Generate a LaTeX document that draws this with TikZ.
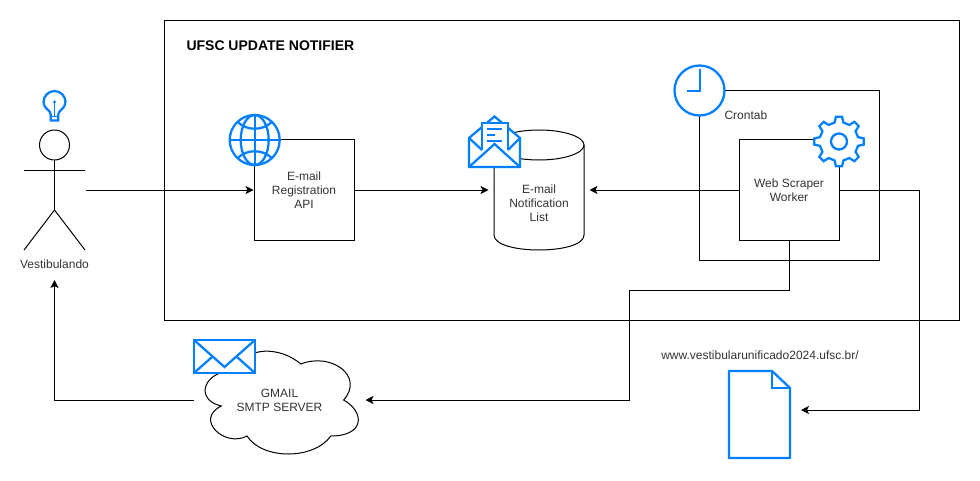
\documentclass[tikz,border=0pt]{standalone}
\usepackage{fontspec}
\setmainfont{Liberation Sans}
\usepackage{tikz}
\usetikzlibrary{
  arrows.meta
}
\definecolor{iconblue}{HTML}{007FFF}
\definecolor{labelgray}{HTML}{333333}

\begin{document}
\begin{tikzpicture}[
    x=0.75pt, y=-0.75pt, line width=0.75pt,
    every node/.style={inner sep=0pt, text=labelgray, align=center, font=\fontsize{9}{10.5}\selectfont},
    boxnode/.style={draw, minimum width=75pt, minimum height=75pt},
    flow/.style={-{Stealth[length=6pt, width=6pt, inset=1.5pt]}},
    icon/.style={draw=iconblue, fill=white, line width=1.7pt, line join=miter},
    iconline/.style={draw=iconblue, line width=1.7pt}
]
    \useasboundingbox (0,0) rectangle (980,481);

    % System boundary and title
    \draw (164,21) rectangle (959,320);
    \node[anchor=west, font=\fontsize{10.5}{12}\selectfont\bfseries, text=black] (title) at (186,46) {UFSC UPDATE NOTIFIER};

    % Vestibulando
    \node[minimum width=45.75pt, minimum height=90pt] (actor) at (54.5,190) {};
    \draw (54.5,145) circle (15);
    \draw (54.5,160) -- (54.5,210);
    \draw (24,170) -- (85,170);
    \draw (24,250) -- (54.5,210) -- (85,250);
    \node (actorlabel) at (54.5,264) {Vestibulando};
    \coordinate (actorin) at (54.5,280);

    % Services
    \node[boxnode] (api) at (304,190) {E-mail\\Registration\\API};
    \node[minimum width=67.5pt, minimum height=90pt] (list) at (539,190) {};
    \draw (539,145) ellipse (45 and 15);
    \draw (494,145) -- (494,235) .. controls (494,255) and (584,255) .. (584,235) -- (584,145);
    \node (listlabel) at (539,203) {E-mail\\Notification\\List};
    \draw (699,91) rectangle (879,260);
    \node[anchor=west] (crontab) at (724,115) {Crontab};
    \node[boxnode] (worker) at (789,190) {Web Scraper\\Worker};

    % Gmail cloud
    \node[minimum width=128.25pt, minimum height=90pt] (cloud) at (279.5,400) {GMAIL\\SMTP SERVER};
    \draw (236.75,370) .. controls (202.55,370) and (194,400) .. (221.36,406)
        .. controls (194,419.2) and (224.78,448) .. (247.01,436)
        .. controls (262.4,460) and (313.7,460) .. (330.8,436)
        .. controls (365,436) and (365,412) .. (343.63,400)
        .. controls (365,376) and (330.8,352) .. (300.88,364)
        .. controls (279.5,346) and (245.3,346) .. (236.75,370) -- cycle;

    % Target page
    \node (url) at (760,355) {www.vestibularunificado2024.ufsc.br/};
    \node[minimum width=45.75pt, minimum height=65.25pt] (page) at (759.5,414.5) {};
    \coordinate (pagein) at (801,410);
    \coordinate (bendpage) at (919,410);
    \coordinate (bendmail) at (629,290);

    % Connectors
    \draw[flow] (actor.east) -- (api.west);
    \draw[flow, shorten >=3.75pt] (api.east) -- (list.west);
    \draw[flow, shorten >=3.75pt] (worker.west) -- (list.east);
    \draw[flow] (worker.south) |- (bendmail) |- (cloud.east);
    \draw[flow] (worker.east) -| (bendpage) -- (pagein);
    \draw[flow] (cloud.west) -| (actorin);

    % Light bulb
    \begin{scope}[shift={(54.5,0)}]
        \draw[icon] (-3.8,120.5) -- (-3.8,114.5) .. controls (-3.8,110) and (-11,109) .. (-11,102)
            .. controls (-11,96) and (-6,91) .. (0,91) .. controls (6,91) and (11,96) .. (11,102)
            .. controls (11,109) and (3.8,110) .. (3.8,114.5) -- (3.8,120.5) -- cycle;
        \draw[iconline, line width=1.2pt] (-3.8,116.5) -- (3.8,116.5);
        \draw[iconline, line width=1.2pt] (0,102) -- (0,116.5);
        \fill[iconblue] (0,102) circle (1.6);
    \end{scope}

    % Globe
    \begin{scope}[shift={(254.7,140)}]
        \draw[icon] (0,0) circle (25);
        \draw[iconline] (0,0) ellipse (14 and 25);
        \draw[iconline] (-25,0) -- (25,0);
        \draw[iconline] (0,-25) -- (0,25);
        \draw[iconline] (-17,-18) .. controls (-8,-9) and (8,-9) .. (17,-18);
        \draw[iconline] (-17,18) .. controls (-8,9) and (8,9) .. (17,18);
    \end{scope}

    % Open mail
    \draw[icon] (469,138) -- (494.5,116.5) -- (520,138) -- (520,167) -- (469,167) -- cycle;
    \draw[icon] (482,150) -- (482,123) -- (508,123) -- (508,150);
    \draw[iconline] (469,138) -- (482,150);
    \draw[iconline] (520,138) -- (508,150);
    \draw[iconline] (469,167) -- (494.5,144) -- (520,167);
    \foreach \ly/\lx in {129/502, 135/495, 141/502}
        \draw[iconline, line width=1.3pt] (487,\ly) -- (\lx,\ly);

    % Clock
    \draw[icon] (699.5,90.5) circle (25);
    \draw[iconline] (687,91) -- (700,91) -- (700,69);

    % Gear
    \begin{scope}[shift={(839,141.5)}]
        \draw[icon] (-7:25) \foreach \a in {0,45,...,315} {
            -- (\a-7:25) -- (\a+7:25) -- (\a+13:19.5) -- (\a+32:19.5)
        } -- cycle;
        \draw[iconline] (0,0) circle (8);
    \end{scope}

    % Envelope
    \draw[icon] (194,340) rectangle (255,373);
    \draw[iconline] (194,340) -- (224.5,367) -- (255,340);
    \draw[iconline] (194,373) -- (212,357);
    \draw[iconline] (255,373) -- (237,357);

    % Page icon
    \draw[icon] (729,371) -- (772,371) -- (790,388) -- (790,458) -- (729,458) -- cycle;
    \draw[iconline] (772,371) -- (772,388) -- (790,388);
\end{tikzpicture}
\end{document}
